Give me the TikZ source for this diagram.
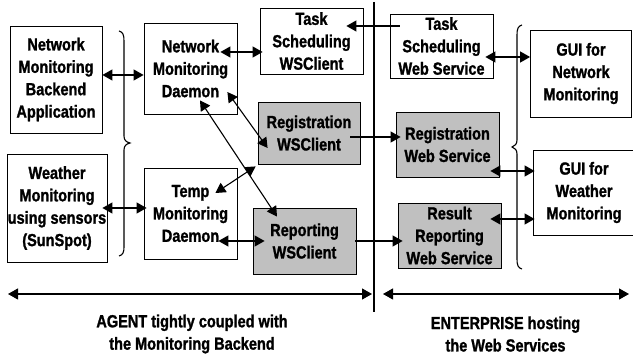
\documentclass[tikz,border=0pt]{standalone}
\usepackage{fontspec}
\newfontfamily\narrowbold{Liberation Sans}[FakeStretch=0.83, UprightFont=*-Bold, FakeBold=1.3]
\usetikzlibrary{arrows.meta}
\definecolor{boxgray}{RGB}{192,192,192}
\tikzset{
  box/.style={draw, line width=0.8pt, inner sep=0pt, align=center,
    font=\narrowbold\fontsize{17.5}{22.4}\selectfont},
  graybox/.style={box, fill=boxgray},
  lbl/.style={inner sep=0pt, align=center, font=\narrowbold\fontsize{17.5}{22.4}\selectfont},
  dar/.style={line width=1.1pt, {Triangle[length=10pt,width=11pt]}-{Triangle[length=10pt,width=11pt]}},
  sar/.style={line width=1.1pt, -{Triangle[length=10pt,width=11pt]}},
  bigdar/.style={line width=1.1pt, {Triangle[length=10pt,width=11pt]}-{Triangle[length=10pt,width=11pt]}},
  brace/.style={line width=1.1pt},
}
\begin{document}
\begin{tikzpicture}[x=1pt,y=-1pt]
\useasboundingbox (0,0) rectangle (633,358);
\fill[white] (0,0) rectangle (633,358);

% agent side
\node[box, minimum width=92pt, minimum height=107pt] (nmba) at (56,79.5) {Network\\Monitoring\\Backend\\Application};
\node[box, minimum width=100pt, minimum height=108pt] (wms) at (57,208) {Weather\\Monitoring\\using sensors\\(SunSpot)};
\node[box, minimum width=93pt, minimum height=91pt] (nmd) at (190.5,68.5) {Network\\Monitoring\\Daemon};
\node[box, minimum width=93pt, minimum height=91pt] (tmd) at (190.5,213.5) {Temp\\Monitoring\\Daemon};
\node[box, minimum width=103pt, minimum height=66pt] (tsc) at (311.5,41) {Task\\Scheduling\\WSClient};
\node[graybox, minimum width=102pt, minimum height=62pt] (rsc) at (309,133) {Registration\\WSClient};
\node[graybox, minimum width=103pt, minimum height=66pt] (rpc) at (304.5,241) {Reporting\\WSClient};

% enterprise side
\node[box, minimum width=103pt, minimum height=64pt] (tsws) at (441.5,46) {Task\\Scheduling\\Web Service};
\node[graybox, minimum width=103pt, minimum height=65pt] (rws) at (447.5,144.5) {Registration\\Web Service};
\node[graybox, minimum width=103pt, minimum height=65pt] (rrws) at (449.5,235.5) {Result\\Reporting\\Web Service};
\node[box, minimum width=101pt, minimum height=87pt] (guin) at (581,73.5) {GUI for\\Network\\Monitoring};
\node[box, minimum width=102pt, minimum height=85pt] (guiw) at (584,192.5) {GUI for\\Weather\\Monitoring};

% braces
\draw[brace] (119,31) .. controls (123,32) and (124,35) .. (124,41) -- (124,136)
  .. controls (124,140) and (126,142) .. (130,143)
  .. controls (126,144) and (124,146) .. (124,150) -- (124,247)
  .. controls (124,252) and (123,255) .. (119,256);
\draw[brace] (522,25) .. controls (518,26) and (517,29) .. (517,35) -- (517,140)
  .. controls (517,144) and (515,146) .. (512,147)
  .. controls (515,148) and (517,150) .. (517,154) -- (517,259)
  .. controls (517,265) and (518,268) .. (522,269);

% divider
\coordinate (vtop) at (374,2);
\coordinate (vbot) at (374,312);
\draw[line width=1.3pt] (vtop) -- (vbot);

% connectors
\draw[dar] (nmba.east |- 0,75) -- (nmd.west |- 0,75);
\draw[dar] ([xshift=-17pt]nmd.east |- 0,52) -- ([xshift=3pt]tsc.west |- 0,52);
\draw[sar] ([xshift=10pt]tsws.west |- 0,26) -- ([xshift=-17pt]tsc.east |- 0,26);
\draw[dar] ([xshift=-8pt]tsws.east |- 0,57) -- (guin.west |- 0,57);
\draw[sar] ([xshift=-10pt]rsc.east |- 0,137) -- ([xshift=5pt]rws.west |- 0,137);
\draw[dar] ([xshift=-9pt]rws.east |- 0,171) -- ([xshift=2pt]guiw.west |- 0,171);
\draw[dar] ([xshift=-11pt]rrws.east |- 0,219) -- ([xshift=2pt]guiw.west |- 0,219);
\draw[sar] ([xshift=-1pt]rpc.east |- 0,241) -- ([xshift=5pt]rrws.west |- 0,241);
\draw[dar] ([xshift=-5pt]wms.east |- 0,208) -- ([xshift=3pt]tmd.west |- 0,208);
\draw[dar] ([xshift=-19pt]tmd.east |- 0,241) -- ([xshift=12pt]rpc.west |- 0,241);
\draw[dar] ([shift={(-10,23.5)}]nmd.east) -- ([shift={(10,15)}]rsc.west);
\draw[dar] ([shift={(9.5,-14)}]nmd.south) -- ([shift={(-27.5,9)}]rpc.north);
\draw[dar] ([shift={(-2,2)}]rsc.south west) -- ([shift={(-22,-20.5)}]tmd.east);

% bottom extent arrows
\coordinate (al) at (8,294);
\coordinate (ar) at (372,294);
\coordinate (el) at (383,294);
\coordinate (er) at (629,294);
\draw[bigdar] (al) -- (ar);
\draw[bigdar] (el) -- (er);

\node[lbl] (agent) at (192,334) {AGENT tightly coupled with\\the Monitoring Backend};
\node[lbl] (ent) at (505.5,334) {ENTERPRISE hosting\\the Web Services};
\end{tikzpicture}
\end{document}
